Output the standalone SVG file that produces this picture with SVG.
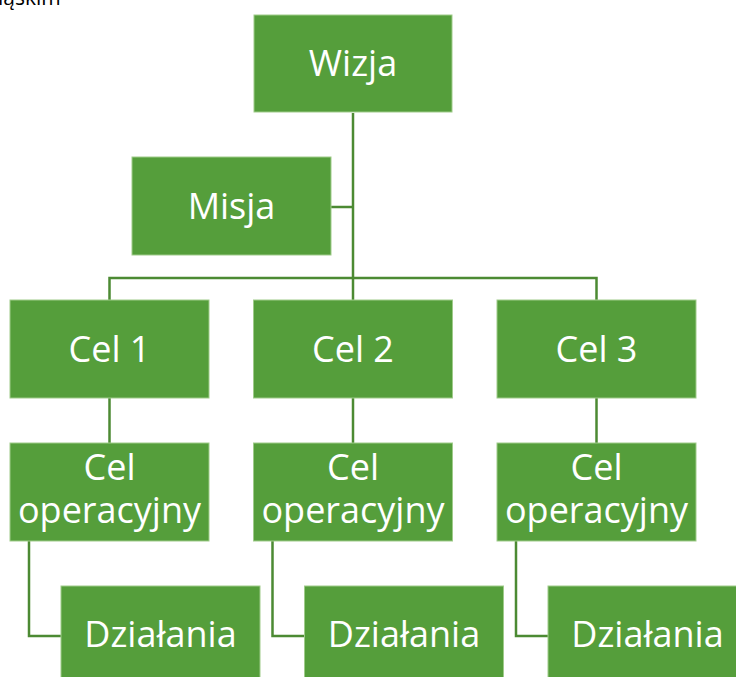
<svg xmlns="http://www.w3.org/2000/svg" width="736" height="677" viewBox="0 0 736 677">
<style>
.box{fill:#559E3B;stroke:#9FCB8A;stroke-width:1}
.t{font-family:"Open Sans","Noto Sans",sans-serif;font-size:36px;fill:#ffffff;text-anchor:middle}
.c{fill:none;stroke:#4C8A33;stroke-width:2.5}
</style>
<rect width="736" height="677" fill="#ffffff"/>
<text x="-2" y="5" font-family="Open Sans, sans-serif" font-size="21" fill="#000000">ląskim</text>
<g id="connectors">
<path class="c" d="M353 113V278"/>
<path class="c" d="M331 207H353"/>
<path class="c" d="M109.5 300V278H596.5V300"/>
<path class="c" d="M353 278V300"/>
<path class="c" d="M109.5 398V443"/>
<path class="c" d="M353 398V443"/>
<path class="c" d="M596.5 398V443"/>
<path class="c" d="M29 541V636H61"/>
<path class="c" d="M272.5 541V636H304.5"/>
<path class="c" d="M516 541V636H548"/>
</g>
<g id="wizja"><rect class="box" x="254" y="15" width="198" height="97"/><text class="t" x="353" y="76">Wizja</text></g>
<g id="misja"><rect class="box" x="132" y="157" width="199" height="98"/><text class="t" x="231.5" y="219">Misja</text></g>
<g id="cel1"><rect class="box" x="10" y="300" width="199" height="98"/><text class="t" x="109.5" y="362">Cel 1</text></g>
<g id="cel2"><rect class="box" x="253.5" y="300" width="199" height="98"/><text class="t" x="353" y="362">Cel 2</text></g>
<g id="cel3"><rect class="box" x="497" y="300" width="199" height="98"/><text class="t" x="596.5" y="362">Cel 3</text></g>
<g id="op1"><rect class="box" x="10" y="443" width="199" height="98"/><text class="t" x="109.5" y="480">Cel</text><text class="t" x="109.5" y="523">operacyjny</text></g>
<g id="op2"><rect class="box" x="253.5" y="443" width="199" height="98"/><text class="t" x="353" y="480">Cel</text><text class="t" x="353" y="523">operacyjny</text></g>
<g id="op3"><rect class="box" x="497" y="443" width="199" height="98"/><text class="t" x="596.5" y="480">Cel</text><text class="t" x="596.5" y="523">operacyjny</text></g>
<g id="dz1"><rect class="box" x="61" y="586" width="199" height="98"/><text class="t" x="160.5" y="647">Działania</text></g>
<g id="dz2"><rect class="box" x="304.5" y="586" width="199" height="98"/><text class="t" x="404" y="647">Działania</text></g>
<g id="dz3"><rect class="box" x="548" y="586" width="199" height="98"/><text class="t" x="647.5" y="647">Działania</text></g>
</svg>
